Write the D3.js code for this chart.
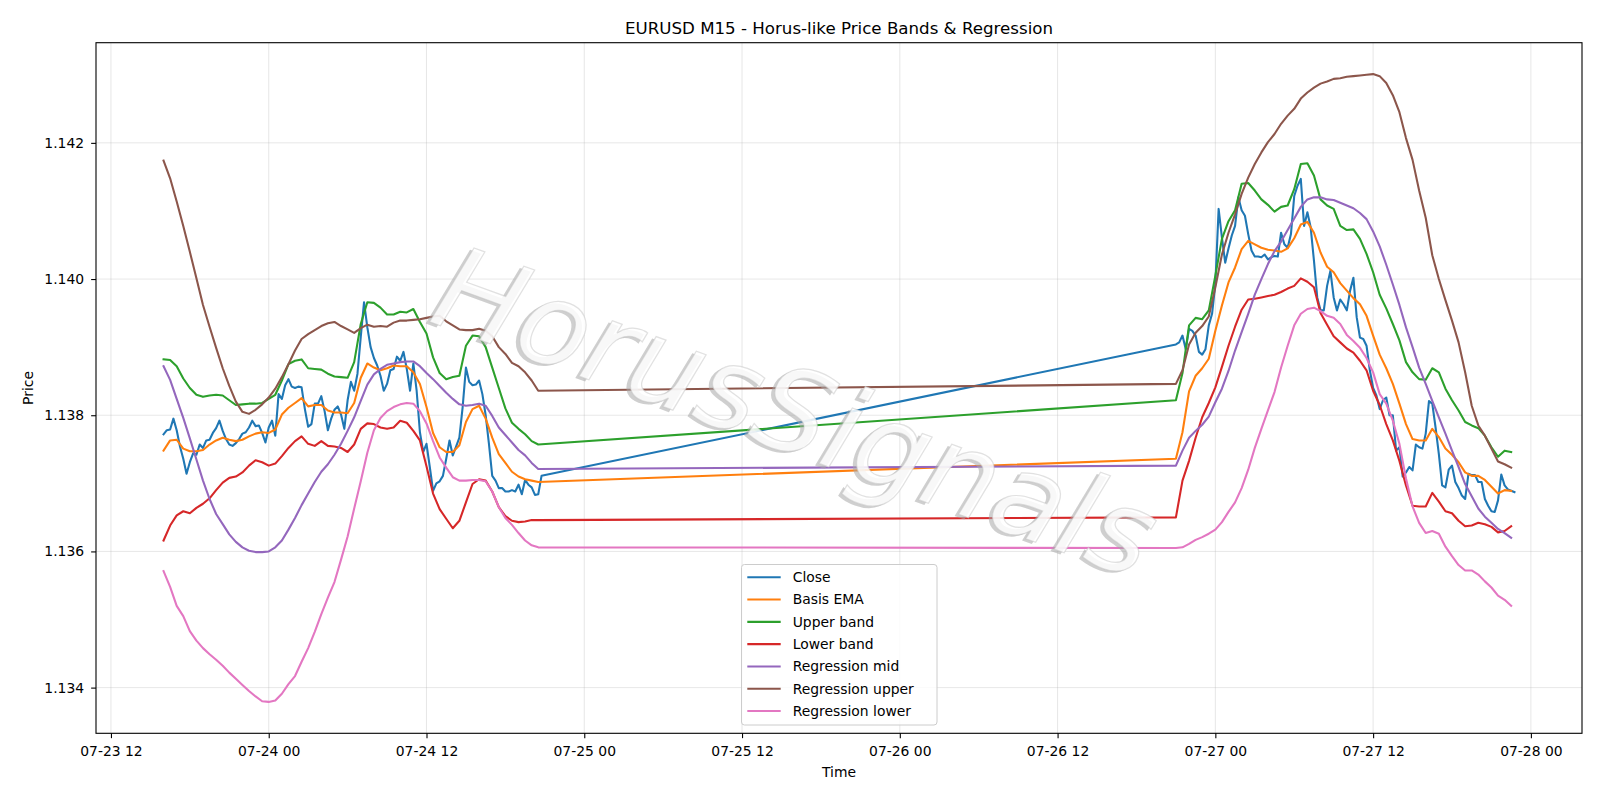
<!DOCTYPE html>
<html>
<head>
<meta charset="utf-8">
<script src="https://cdn.jsdelivr.net/npm/d3@7"></script>
<style>
  body { margin: 0; background: #fff; }
  svg { font-family: "DejaVu Sans", sans-serif; }
</style>
</head>
<body>
<svg id="chart" width="1600" height="800"></svg>
<script>
const WIDTH = 1600;
const HEIGHT = 800;
const PLOT = {left: 96, right: 1582, top: 42.7, bottom: 733.3};

// two trading segments (gap between them); close is M15, bands read every 30 min
const SEG1_START = new Date(2025, 6, 23, 16, 0);
const SEG2_START = new Date(2025, 6, 26, 21, 0);
const CLOSE_STEP = 15;
const BAND_STEP = 30;

const close1 = [
  1.13772,1.13778,1.13779,1.13795,1.13778,1.13754,1.13736,1.13714,1.13731,1.13744,
  1.13742,1.13757,1.13752,1.13763,1.13764,1.13774,1.13781,1.13792,1.13777,1.13765,
  1.13757,1.13755,1.13759,1.13765,1.13773,1.13775,1.13782,1.13792,1.13784,1.13785,
  1.13774,1.13760,1.13782,1.13792,1.13770,1.13831,1.13824,1.13844,1.13853,1.13842,
  1.13840,1.13842,1.13841,1.13809,1.13783,1.13787,1.13817,1.13817,1.13828,1.13806,
  1.13778,1.13795,1.13808,1.13813,1.13801,1.13780,1.13822,1.13849,1.13836,1.13861,
  1.13915,1.13966,1.13929,1.13900,1.13884,1.13873,1.13858,1.13836,1.13846,1.13866,
  1.13868,1.13886,1.13880,1.13893,1.13868,1.13836,1.13876,1.13836,1.13775,1.13746,
  1.13758,1.13724,1.13689,1.13700,1.13703,1.13711,1.13736,1.13763,1.13741,1.13754,
  1.13767,1.13812,1.13870,1.13849,1.13844,1.13845,1.13851,1.13831,1.13800,1.13758,
  1.13711,1.13704,1.13693,1.13693,1.13688,1.13688,1.13690,1.13688,1.13698,1.13684,
  1.13705,1.13698,1.13694,1.13683,1.13684,1.13711
];
const close2 = [
  1.13904,1.13907,1.13917,1.13897,1.13927,1.13924,1.13917,1.13893,1.13889,1.13897,
  1.13932,1.13949,1.13993,1.14103,1.14061,1.14024,1.14045,1.14064,1.14078,1.14120,
  1.14101,1.14093,1.14066,1.14042,1.14033,1.14033,1.14032,1.14036,1.14029,1.14032,
  1.14034,1.14033,1.14068,1.14051,1.14046,1.14066,1.14122,1.14137,1.14147,1.14078,
  1.14098,1.14076,1.14027,1.13973,1.13954,1.13954,1.13990,1.14012,1.13973,1.13954,
  1.13970,1.13963,1.13954,1.13983,1.14002,1.13944,1.13914,1.13912,1.13902,1.13866,
  1.13840,1.13829,1.13809,1.13822,1.13826,1.13800,1.13800,1.13748,1.13753,1.13710,
  1.13716,1.13724,1.13719,1.13757,1.13753,1.13751,1.13773,1.13821,1.13817,1.13782,
  1.13743,1.13697,1.13694,1.13720,1.13726,1.13702,1.13693,1.13682,1.13677,1.13714,
  1.13712,1.13712,1.13702,1.13702,1.13677,1.13667,1.13659,1.13658,1.13675,1.13713,
  1.13697,1.13691,1.13689,1.13687
];

const ema1 = [
  1.13748,1.13763,1.13764,1.13751,1.13747,1.13747,1.13749,1.13757,1.13763,1.13767,
  1.13764,1.13762,1.13764,1.13769,1.13773,1.13775,1.13774,1.13779,1.13801,1.13811,
  1.13818,1.13825,1.13813,1.13815,1.13815,1.13807,1.13804,1.13804,1.13803,1.13818,
  1.13855,1.13876,1.13870,1.13866,1.13869,1.13873,1.13872,1.13872,1.13863,1.13846,
  1.13812,1.13774,1.13753,1.13746,1.13746,1.13756,1.13790,1.13809,1.13814,1.13795,
  1.13767,1.13743,1.13730,1.13717,1.13710,1.13706,1.13704,1.13702
];
const ema2 = [
  1.13736,1.13775,1.13835,1.13858,1.13869,1.13883,1.13924,1.13961,1.13995,1.14017,
  1.14044,1.14056,1.14051,1.14046,1.14043,1.14042,1.14040,1.14045,1.14060,1.14080,
  1.14084,1.14068,1.14039,1.14018,1.14010,1.13994,1.13983,1.13972,1.13963,1.13946,
  1.13917,1.13889,1.13869,1.13846,1.13817,1.13787,1.13765,1.13763,1.13763,1.13780,
  1.13768,1.13751,1.13742,1.13731,1.13716,1.13711,1.13711,1.13705,1.13695,1.13685,
  1.13690,1.13689
];

const upper1 = [
  1.13882,1.13881,1.13872,1.13854,1.13840,1.13830,1.13827,1.13829,1.13830,1.13829,
  1.13822,1.13815,1.13816,1.13817,1.13817,1.13818,1.13824,1.13830,1.13851,1.13875,
  1.13880,1.13882,1.13869,1.13868,1.13867,1.13861,1.13857,1.13856,1.13855,1.13878,
  1.13934,1.13966,1.13965,1.13958,1.13948,1.13948,1.13952,1.13951,1.13956,1.13937,
  1.13920,1.13885,1.13862,1.13853,1.13856,1.13858,1.13902,1.13917,1.13916,1.13900,
  1.13870,1.13840,1.13810,1.13789,1.13780,1.13772,1.13762,1.13757
];
const upper2 = [
  1.13822,1.13862,1.13932,1.13943,1.13941,1.13954,1.14005,1.14059,1.14085,1.14101,
  1.14140,1.14141,1.14130,1.14117,1.14109,1.14099,1.14106,1.14108,1.14132,1.14169,
  1.14170,1.14152,1.14117,1.14108,1.14103,1.14078,1.14072,1.14073,1.14059,1.14037,
  1.14010,1.13977,1.13957,1.13934,1.13910,1.13878,1.13863,1.13853,1.13852,1.13869,
  1.13863,1.13839,1.13822,1.13807,1.13790,1.13785,1.13781,1.13770,1.13753,1.13739,
  1.13748,1.13746
];

const lower1 = [
  1.13616,1.13638,1.13653,1.13659,1.13656,1.13664,1.13670,1.13678,1.13690,1.13701,
  1.13708,1.13710,1.13716,1.13726,1.13734,1.13731,1.13726,1.13729,1.13740,1.13752,
  1.13762,1.13769,1.13758,1.13755,1.13762,1.13755,1.13754,1.13752,1.13746,1.13757,
  1.13780,1.13788,1.13787,1.13782,1.13780,1.13782,1.13792,1.13789,1.13777,1.13763,
  1.13725,1.13685,1.13662,1.13648,1.13634,1.13645,1.13672,1.13699,1.13706,1.13704,
  1.13688,1.13665,1.13652,1.13645,1.13643,1.13644,1.13646,1.13646
];
const lower2 = [
  1.13650,1.13704,1.13733,1.13767,1.13797,1.13818,1.13841,1.13871,1.13902,1.13930,
  1.13955,1.13970,1.13971,1.13973,1.13975,1.13977,1.13981,1.13986,1.13990,1.14001,
  1.13996,1.13988,1.13950,1.13933,1.13916,1.13907,1.13898,1.13892,1.13880,1.13866,
  1.13836,1.13815,1.13787,1.13763,1.13733,1.13697,1.13667,1.13666,1.13666,1.13686,
  1.13673,1.13659,1.13656,1.13645,1.13637,1.13638,1.13642,1.13640,1.13636,1.13628,
  1.13630,1.13637
];

const regMid1 = [
  1.13872,1.13852,1.13824,1.13796,1.13766,1.13735,1.13704,1.13677,1.13655,1.13640,
  1.13625,1.13614,1.13606,1.13601,1.13599,1.13599,1.13600,1.13606,1.13616,1.13632,
  1.13649,1.13668,1.13685,1.13702,1.13717,1.13728,1.13742,1.13758,1.13777,1.13797,
  1.13821,1.13845,1.13860,1.13868,1.13874,1.13876,1.13878,1.13879,1.13879,1.13872,
  1.13862,1.13853,1.13843,1.13833,1.13824,1.13816,1.13814,1.13815,1.13817,1.13814,
  1.13799,1.13782,1.13771,1.13760,1.13749,1.13741,1.13730,1.13721
];
const regMid2 = [
  1.13726,1.13748,1.13767,1.13777,1.13786,1.13798,1.13819,1.13839,1.13865,1.13895,
  1.13922,1.13949,1.13977,1.14000,1.14022,1.14041,1.14055,1.14072,1.14089,1.14106,
  1.14117,1.14120,1.14120,1.14117,1.14116,1.14112,1.14108,1.14104,1.14097,1.14088,
  1.14070,1.14048,1.14021,1.13992,1.13962,1.13929,1.13900,1.13870,1.13846,1.13821,
  1.13797,1.13773,1.13748,1.13724,1.13699,1.13681,1.13663,1.13651,1.13642,1.13633,
  1.13627,1.13620
];

const regUpper1 = [
  1.14174,1.14148,1.14114,1.14078,1.14040,1.14001,1.13962,1.13930,1.13899,1.13869,
  1.13843,1.13820,1.13805,1.13802,1.13808,1.13816,1.13826,1.13839,1.13856,1.13875,
  1.13895,1.13912,1.13919,1.13925,1.13931,1.13935,1.13937,1.13931,1.13926,1.13921,
  1.13928,1.13933,1.13930,1.13931,1.13930,1.13936,1.13939,1.13939,1.13940,1.13941,
  1.13943,1.13945,1.13946,1.13938,1.13932,1.13926,1.13925,1.13925,1.13927,1.13924,
  1.13916,1.13900,1.13890,1.13877,1.13872,1.13863,1.13851,1.13836
];
const regUpper2 = [
  1.13846,1.13866,1.13904,1.13921,1.13931,1.13945,1.13988,1.14036,1.14068,1.14095,
  1.14125,1.14149,1.14169,1.14186,1.14201,1.14213,1.14228,1.14240,1.14250,1.14265,
  1.14274,1.14281,1.14287,1.14290,1.14294,1.14295,1.14297,1.14298,1.14299,1.14300,
  1.14301,1.14298,1.14288,1.14270,1.14245,1.14207,1.14175,1.14130,1.14090,1.14035,
  1.14000,1.13969,1.13939,1.13907,1.13863,1.13814,1.13785,1.13770,1.13751,1.13732,
  1.13728,1.13723
];

const regLower1 = [
  1.13571,1.13548,1.13520,1.13505,1.13483,1.13469,1.13458,1.13449,1.13441,1.13432,
  1.13422,1.13413,1.13404,1.13395,1.13387,1.13380,1.13379,1.13381,1.13391,1.13405,
  1.13417,1.13438,1.13458,1.13482,1.13508,1.13532,1.13555,1.13588,1.13622,1.13663,
  1.13703,1.13745,1.13778,1.13796,1.13806,1.13812,1.13816,1.13818,1.13817,1.13806,
  1.13788,1.13762,1.13738,1.13723,1.13709,1.13704,1.13704,1.13705,1.13705,1.13703,
  1.13688,1.13665,1.13649,1.13639,1.13627,1.13616,1.13609,1.13606
];
const regLower2 = [
  1.13605,1.13606,1.13611,1.13617,1.13621,1.13626,1.13632,1.13643,1.13658,1.13672,
  1.13693,1.13720,1.13752,1.13780,1.13807,1.13834,1.13870,1.13902,1.13932,1.13949,
  1.13956,1.13958,1.13953,1.13946,1.13943,1.13934,1.13918,1.13909,1.13899,1.13884,
  1.13863,1.13831,1.13817,1.13792,1.13758,1.13707,1.13666,1.13642,1.13627,1.13630,
  1.13626,1.13607,1.13593,1.13580,1.13572,1.13572,1.13566,1.13556,1.13547,1.13535,
  1.13529,1.13520
];

const Y_TICKS = [1.134, 1.136, 1.138, 1.140, 1.142];
const X_TICK_HOURS = 12;

const SERIES = [
  {name: "Close",            color: "#1f77b4", a: close1,    b: close2,    step: CLOSE_STEP},
  {name: "Basis EMA",        color: "#ff7f0e", a: ema1,      b: ema2,      step: BAND_STEP},
  {name: "Upper band",       color: "#2ca02c", a: upper1,    b: upper2,    step: BAND_STEP},
  {name: "Lower band",       color: "#d62728", a: lower1,    b: lower2,    step: BAND_STEP},
  {name: "Regression mid",   color: "#9467bd", a: regMid1,   b: regMid2,   step: BAND_STEP},
  {name: "Regression upper", color: "#8c564b", a: regUpper1, b: regUpper2, step: BAND_STEP},
  {name: "Regression lower", color: "#e377c2", a: regLower1, b: regLower2, step: BAND_STEP}
];

function toPoints(s){
  const p1 = s.a.map((v, k) => ({t: d3.timeMinute.offset(SEG1_START, k * s.step), v}));
  const p2 = s.b.map((v, k) => ({t: d3.timeMinute.offset(SEG2_START, k * s.step), v}));
  return p1.concat(p2);
}

function main(){
  const svg = d3.select("#chart");
  SERIES.forEach(s => s.points = toPoints(s));

  const all = SERIES.flatMap(s => s.points);
  const [t0, t1] = d3.extent(all, d => +d.t);
  const tpad = (t1 - t0) * 0.05;
  const [v0, v1] = d3.extent(all, d => d.v);
  const vpad = (v1 - v0) * 0.05;

  const x = d3.scaleTime().domain([new Date(t0 - tpad), new Date(t1 + tpad)]).range([PLOT.left, PLOT.right]);
  const y = d3.scaleLinear().domain([v0 - vpad, v1 + vpad]).range([PLOT.bottom, PLOT.top]);

  const xTicks = d3.timeHour.every(X_TICK_HOURS).range(x.domain()[0], x.domain()[1]);

  // grid
  const grid = svg.append("g");
  grid.selectAll(".gx").data(xTicks).enter().append("line")
    .attr("x1", d => x(d)).attr("x2", d => x(d))
    .attr("y1", PLOT.top).attr("y2", PLOT.bottom)
    .attr("stroke", "#b0b0b0").attr("stroke-opacity", 0.3).attr("stroke-width", 1);
  grid.selectAll(".gy").data(Y_TICKS).enter().append("line")
    .attr("x1", PLOT.left).attr("x2", PLOT.right)
    .attr("y1", d => y(d)).attr("y2", d => y(d))
    .attr("stroke", "#b0b0b0").attr("stroke-opacity", 0.3).attr("stroke-width", 1);

  // lines
  const line = d3.line().x(d => x(d.t)).y(d => y(d.v));
  svg.append("g").selectAll("path")
    .data(SERIES).enter().append("path")
    .attr("d", d => line(d.points))
    .attr("fill", "none")
    .attr("stroke", d => d.color)
    .attr("stroke-width", 2.08)
    .attr("stroke-linejoin", "round")
    .attr("stroke-linecap", "square");

  // axes
  const xAxis = d3.axisBottom(x).tickValues(xTicks).tickFormat(d3.timeFormat("%m-%d %H"))
    .tickSize(4.86).tickPadding(8).tickSizeOuter(0);
  const gx = svg.append("g").attr("transform", `translate(0,${PLOT.bottom})`).call(xAxis);
  const yAxis = d3.axisLeft(y).tickValues(Y_TICKS).tickFormat(d3.format(".3f"))
    .tickSize(4.86).tickPadding(7).tickSizeOuter(0);
  const gy = svg.append("g").attr("transform", `translate(${PLOT.left},0)`).call(yAxis);
  [gx, gy].forEach(g => {
    g.select(".domain").remove();
    g.selectAll(".tick line").attr("stroke", "#000").attr("stroke-width", 1.1);
    g.selectAll(".tick text").attr("fill", "#000").style("font-size", "13.9px")
      .style("font-family", "DejaVu Sans, sans-serif");
  });

  // frame
  svg.append("rect")
    .attr("x", PLOT.left).attr("y", PLOT.top)
    .attr("width", PLOT.right - PLOT.left).attr("height", PLOT.bottom - PLOT.top)
    .attr("fill", "none").attr("stroke", "#000").attr("stroke-width", 1.1);

  // labels
  const cx = (PLOT.left + PLOT.right) / 2;
  svg.append("text").attr("x", cx).attr("y", 34.4).attr("text-anchor", "middle")
    .style("font-size", "16.67px").text("EURUSD M15 - Horus-like Price Bands & Regression");
  svg.append("text").attr("x", cx).attr("y", 777).attr("text-anchor", "middle")
    .style("font-size", "13.9px").text("Time");
  svg.append("text").attr("transform", `translate(32.5,${(PLOT.top + PLOT.bottom) / 2}) rotate(-90)`)
    .attr("text-anchor", "middle").style("font-size", "13.9px").text("Price");

  // legend
  const leg = svg.append("g");
  leg.append("rect").attr("x", 741.5).attr("y", 564.5).attr("width", 195.5).attr("height", 160.5)
    .attr("rx", 3).attr("fill", "#fff").attr("fill-opacity", 0.8)
    .attr("stroke", "#cccccc").attr("stroke-width", 1);
  const rows = leg.selectAll(".row").data(SERIES).enter().append("g")
    .attr("transform", (d, i) => `translate(0,${577.3 + i * 22.28})`);
  rows.append("line").attr("x1", 747.3).attr("x2", 780.7)
    .attr("stroke", d => d.color).attr("stroke-width", 2.08);
  rows.append("text").attr("x", 792.7).attr("dy", "0.35em")
    .style("font-size", "13.9px").text(d => d.name);

  // watermark: white text over a soft grey shadow
  const wm = svg.append("g").attr("transform", "translate(796,412) rotate(20)");
  wm.append("text").attr("x", -3).attr("y", 3)
    .attr("text-anchor", "middle").attr("dominant-baseline", "central")
    .style("font-size", "116px").style("font-style", "italic")
    .attr("fill", "#a8a8a8").attr("fill-opacity", 0.55).text("HorusSignals");
  wm.append("text")
    .attr("text-anchor", "middle").attr("dominant-baseline", "central")
    .style("font-size", "116px").style("font-style", "italic")
    .attr("fill", "#fff").attr("fill-opacity", 0.85)
    .attr("stroke", "#c4c4c4").attr("stroke-opacity", 0.5).attr("stroke-width", 1.2)
    .text("HorusSignals");
}

window.addEventListener("load", main);
</script>
</body>
</html>
